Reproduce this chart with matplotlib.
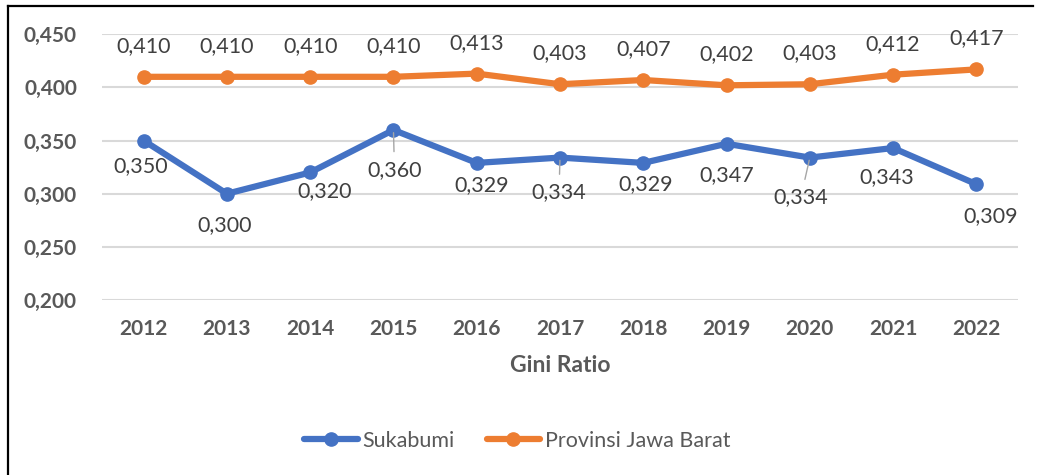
import matplotlib
matplotlib.use("Agg")
import matplotlib.pyplot as plt
from matplotlib.lines import Line2D

years = ["2012", "2013", "2014", "2015", "2016", "2017", "2018", "2019", "2020", "2021", "2022"]
sukabumi = [0.350, 0.300, 0.320, 0.360, 0.329, 0.334, 0.329, 0.347, 0.334, 0.343, 0.309]
jabar = [0.410, 0.410, 0.410, 0.410, 0.413, 0.403, 0.407, 0.402, 0.403, 0.412, 0.417]
yticks = [0.200, 0.250, 0.300, 0.350, 0.400, 0.450]

# label offsets in pixels (layout only)
suk_off = [(-3, -26), (-2, -31), (14, -19), (1, -40), (5, -22), (-1, -35),
           (2, -21), (0, -31), (-9, -40), (-6, -29), (14, -32)]
suk_leader = [False, False, False, True, False, True, False, False, True, False, False]

FONT = "Lato"
BLUE = "#4472C4"
ORANGE = "#ED7D31"
TICK = "#595959"
LAB = "#404040"

W, H = 1038, 475
fig = plt.figure(figsize=(W / 100, H / 100), dpi=100)
left, right, top, bottom = 102, 1018, 34.3, 300
ax = fig.add_axes([left / W, 1 - bottom / H, (right - left) / W, (bottom - top) / H])

x = list(range(len(years)))
ax.plot(x, sukabumi, color=BLUE, lw=4.5, marker="o", ms=9.5, label="Sukabumi",
        solid_capstyle="round", zorder=3)
ax.plot(x, jabar, color=ORANGE, lw=4.5, marker="o", ms=9.5, label="Provinsi Jawa Barat",
        solid_capstyle="round", zorder=3)

def fmt(v):
    return f"{v:.3f}".replace(".", ",")

for i, v in enumerate(jabar):
    ax.annotate(fmt(v), (i, v), xytext=(0, 31), textcoords="offset pixels",
                ha="center", va="center", fontsize=15.5, color=LAB, family=FONT,
                annotation_clip=False)

for i, v in enumerate(sukabumi):
    dx, dy = suk_off[i]
    kw = {}
    if suk_leader[i]:
        kw["arrowprops"] = dict(arrowstyle="-", color="#A6A6A6", lw=1.0,
                                shrinkA=4, shrinkB=2)
    ax.annotate(fmt(v), (i, v), xytext=(dx, dy), textcoords="offset pixels",
                ha="center", va="center", fontsize=15.5, color=LAB, family=FONT,
                annotation_clip=False, **kw)

ax.set_xlim(-0.5, len(years) - 0.5)
ax.set_ylim(0.2, 0.45)
ax.set_yticks(yticks)
ax.set_yticklabels([fmt(t) for t in yticks])
ax.set_xticks(x)
ax.set_xticklabels(years)
for lbl in ax.get_yticklabels() + ax.get_xticklabels():
    lbl.set_family(FONT)
    lbl.set_fontweight("bold")
    lbl.set_fontsize(15)
    lbl.set_color(TICK)
ax.tick_params(axis="both", length=0)
ax.tick_params(axis="y", pad=18)
ax.tick_params(axis="x", pad=14)
ax.grid(axis="y", color="#D9D9D9", lw=1.5)
ax.set_axisbelow(True)
for s in ax.spines.values():
    s.set_visible(False)

ax.set_xlabel("Gini Ratio", family=FONT, fontweight="bold", fontsize=16.5,
              color=TICK, labelpad=11)

leg = fig.legend(loc="center", bbox_to_anchor=(517 / W, 1 - 441 / H), ncol=2,
                 frameon=False, handlelength=2.5, handletextpad=0.2,
                 columnspacing=1.5, prop={"family": FONT, "size": 15.5})
for t in leg.get_texts():
    t.set_color(TICK)

# outer frame (left and top edges)
fig.add_artist(Line2D([8 / W, 8 / W], [0, 1 - 6 / H], color="black", lw=1.6,
                      transform=fig.transFigure))
fig.add_artist(Line2D([8 / W, 1033 / W], [1 - 6 / H, 1 - 6 / H], color="black", lw=1.6,
                      transform=fig.transFigure))

fig.savefig("out.png", dpi=100)
